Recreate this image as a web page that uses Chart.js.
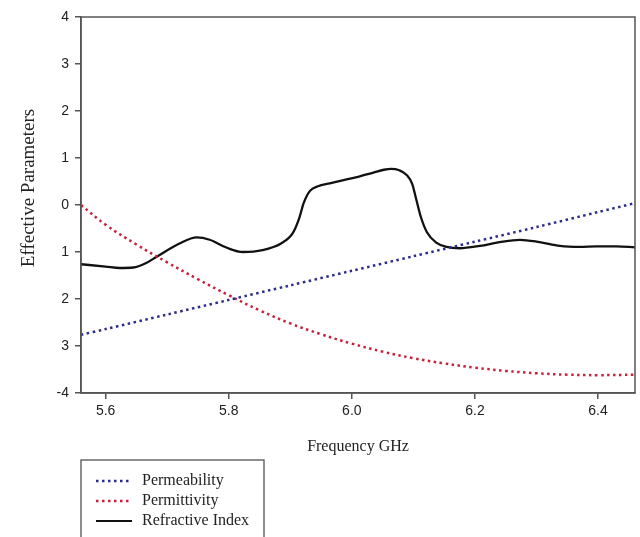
<!DOCTYPE html>
<html>
<head>
<meta charset="utf-8">
<script src="https://cdn.jsdelivr.net/npm/chart.js@4/dist/chart.umd.min.js"></script>
<style>
  html, body { margin: 0; padding: 0; background: #fff; }
  #wrap { position: relative; width: 640px; height: 537px; }
</style>
</head>
<body>
<div id="wrap"><canvas id="chart" width="640" height="537"></canvas></div>
<script>
// --- data ---
const xTicks = [5.6, 5.8, 6.0, 6.2, 6.4];
const yTickLabels = ['-4', '3', '2', '1', '0', '1', '2', '3', '4']; // bottom to top, as printed on the axis

const permeabilityFreq = [5.56, 5.6, 5.7, 5.8, 5.9, 6.0, 6.1, 6.2, 6.3, 6.4, 6.46];
const permeability = [-2.76, -2.64, -2.33, -2.02, -1.71, -1.40, -1.09, -0.78, -0.47, -0.15, 0.04];

const permittivityFreq = [5.56, 5.6, 5.65, 5.7, 5.75, 5.8, 5.85, 5.9, 5.95, 6.0, 6.05, 6.1, 6.15, 6.2, 6.25, 6.3, 6.35, 6.4, 6.46];
const permittivity = [0, -0.42, -0.84, -1.22, -1.58, -1.92, -2.24, -2.52, -2.75, -2.95, -3.12, -3.26, -3.37, -3.46, -3.53, -3.58, -3.61, -3.62, -3.61];

const refractiveFreq = [5.56, 5.6, 5.623, 5.645, 5.665, 5.683, 5.72, 5.748, 5.769, 5.797, 5.823, 5.855, 5.885,
  5.904, 5.914, 5.922, 5.932, 5.945, 5.964, 5.99, 6.01, 6.035, 6.052, 6.064, 6.077, 6.089, 6.098, 6.105, 6.112, 6.122,
  6.137, 6.154, 6.175, 6.208, 6.24, 6.273, 6.305, 6.338, 6.37, 6.398, 6.43, 6.46];
const refractive = [-1.26, -1.31, -1.34, -1.33, -1.24, -1.1, -0.82, -0.69, -0.74, -0.91, -1.0, -0.96, -0.82,
  -0.6, -0.3, 0.05, 0.3, 0.4, 0.46, 0.54, 0.6, 0.69, 0.75, 0.77, 0.74, 0.64, 0.45, 0.1, -0.25, -0.58,
  -0.8, -0.89, -0.92, -0.87, -0.79, -0.74, -0.79, -0.87, -0.89, -0.88, -0.88, -0.9];

const pts = (xs, ys) => xs.map((x, i) => ({ x, y: ys[i] }));

// frame, axis titles and the boxed legend under the plot
const decorations = {
  id: 'decorations',
  afterDraw(chart) {
    const { ctx, chartArea: a } = chart;
    ctx.save();
    ctx.strokeStyle = '#555';
    ctx.lineWidth = 1.5;
    ctx.strokeRect(a.left, a.top, a.right - a.left, a.bottom - a.top);

    ctx.fillStyle = '#222';
    ctx.font = '16px "Liberation Serif", serif';
    ctx.textAlign = 'center';
    ctx.textBaseline = 'middle';
    ctx.fillText('Frequency GHz', (a.left + a.right) / 2, 447);

    ctx.save();
    ctx.translate(29, 188);
    ctx.rotate(-Math.PI / 2);
    ctx.font = '19px "Liberation Serif", serif';
    ctx.fillText('Effective Parameters', 0, 0);
    ctx.restore();

    // legend box
    ctx.strokeStyle = '#444';
    ctx.lineWidth = 1.2;
    ctx.strokeRect(81, 460, 183, 90);
    const items = [
      { label: 'Permeability', color: '#2b2b8f', dash: [2.5, 3.5], y: 481 },
      { label: 'Permittivity', color: '#c8203a', dash: [2.5, 3.5], y: 501 },
      { label: 'Refractive Index', color: '#111', dash: [], y: 521 },
    ];
    ctx.font = '16px "Liberation Serif", serif';
    ctx.textAlign = 'left';
    items.forEach(it => {
      ctx.beginPath();
      ctx.setLineDash(it.dash);
      ctx.strokeStyle = it.color;
      ctx.lineWidth = it.dash.length ? 2.5 : 2;
      ctx.moveTo(96, it.y);
      ctx.lineTo(132, it.y);
      ctx.stroke();
      ctx.setLineDash([]);
      ctx.fillStyle = '#222';
      ctx.fillText(it.label, 142, it.y);
    });
    ctx.restore();
  }
};

new Chart(document.getElementById('chart'), {
  type: 'line',
  data: {
    datasets: [
      { label: 'Permeability', data: pts(permeabilityFreq, permeability), borderColor: '#2b2b8f',
        borderWidth: 2.5, borderDash: [2.5, 3.5], tension: 0.3 },
      { label: 'Permittivity', data: pts(permittivityFreq, permittivity), borderColor: '#c8203a',
        borderWidth: 2.5, borderDash: [2.5, 3.5], tension: 0.4 },
      { label: 'Refractive Index', data: pts(refractiveFreq, refractive), borderColor: '#111',
        borderWidth: 2.3, cubicInterpolationMode: 'monotone' },
    ]
  },
  options: {
    responsive: false,
    devicePixelRatio: 1,
    animation: false,
    layout: { padding: { top: 17, right: 5, left: 0, bottom: 0 } },
    elements: { point: { radius: 0 } },
    plugins: { legend: { display: false }, tooltip: { enabled: false } },
    scales: {
      x: {
        type: 'linear', min: 5.56, max: 6.46,
        afterBuildTicks: s => { s.ticks = xTicks.map(v => ({ value: v })); },
        afterFit: s => { s.height = 144; },
        grid: { drawOnChartArea: false, tickLength: 6, color: '#555', lineWidth: 1.5 },
        border: { color: '#555', width: 1.5 },
        ticks: { color: '#222', padding: 4, font: { family: '"Liberation Sans", Arial', size: 14 },
          callback: v => v.toFixed(1) }
      },
      y: {
        min: -4, max: 4,
        ticks: { stepSize: 1, color: '#222', padding: 6, font: { family: '"Liberation Sans", Arial', size: 14 },
          callback: (v, i) => yTickLabels[i] },
        afterFit: s => { s.width = 81; },
        grid: { drawOnChartArea: false, tickLength: 6, color: '#555', lineWidth: 1.5 },
        border: { color: '#555', width: 1.5 }
      }
    }
  },
  plugins: [decorations]
});
</script>
</body>
</html>
